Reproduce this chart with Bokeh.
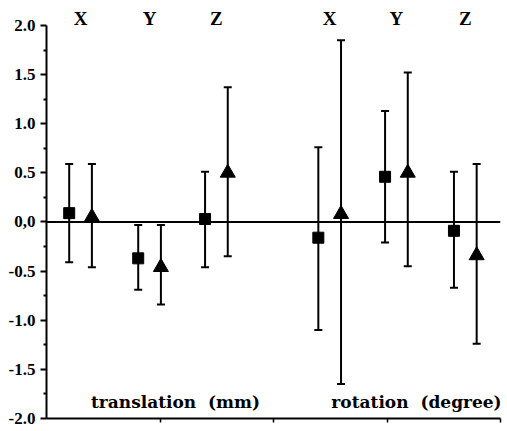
from bokeh.plotting import figure
from bokeh.models import (ColumnDataSource, Whisker, TeeHead, Span, Label,
                          LabelSet, FixedTicker, Range1d)
from bokeh.embed import file_html
from bokeh.resources import INLINE

# ---- data ----
groups = ["X", "Y", "Z", "X", "Y", "Z"]
group_pos = [0.30, 0.908, 1.497, 2.495, 3.083, 3.69]

sq_mean = [0.09, -0.37, 0.03, -0.16, 0.46, -0.09]
sq_upper = [0.59, -0.03, 0.51, 0.76, 1.13, 0.51]
sq_lower = [-0.41, -0.69, -0.46, -1.10, -0.21, -0.67]

tri_mean = [0.05, -0.46, 0.50, 0.08, 0.50, -0.34]
tri_upper = [0.59, -0.03, 1.37, 1.85, 1.52, 0.59]
tri_lower = [-0.46, -0.84, -0.35, -1.65, -0.45, -1.24]

y_ticks = [-2.0, -1.5, -1.0, -0.5, 0.0, 0.5, 1.0, 1.5, 2.0]
y_tick_labels = ["-2.0", "-1.5", "-1.0", "-0.5", "0,0", "0.5", "1.0", "1.5", "2.0"]
y_minor = [-1.75, -1.25, -0.75, -0.25, 0.25, 0.75, 1.25, 1.75]
x_ticks = [1, 2, 3, 4]

panel_titles = ["translation \u00a0(mm)", "rotation \u00a0(degree)"]

# ---- layout / styles ----
OFF = 0.1
SERIF = "Liberation Serif"

p = figure(width=507, height=431, x_range=Range1d(0, 4), y_range=Range1d(-2.0, 2.254),
           output_backend="svg", toolbar_location=None,
           min_border_left=46, min_border_right=7, min_border_top=0, min_border_bottom=13)
p.grid.visible = False
p.outline_line_color = None
p.background_fill_color = "white"

sq_src = ColumnDataSource(dict(x=[g - OFF for g in group_pos], y=sq_mean,
                               upper=sq_upper, lower=sq_lower))
tri_src = ColumnDataSource(dict(x=[g + OFF for g in group_pos], y=tri_mean,
                                upper=tri_upper, lower=tri_lower))

# zero line
p.add_layout(Span(location=0, dimension="width", line_color="black", line_width=2))

for src in (sq_src, tri_src):
    w = Whisker(base="x", upper="upper", lower="lower", source=src,
                line_color="black", line_width=2,
                upper_head=TeeHead(size=8, line_color="black", line_width=2),
                lower_head=TeeHead(size=8, line_color="black", line_width=2))
    p.add_layout(w)

p.scatter("x", "y", source=sq_src, marker="square", size=11,
          fill_color="black", line_color="black")
p.scatter("x", "y", source=tri_src, marker="triangle", size=15,
          fill_color="black", line_color="black")

# header labels X Y Z
hdr_src = ColumnDataSource(dict(x=group_pos, y=[2.0] * len(group_pos), text=groups))
p.add_layout(LabelSet(x="x", y="y", text="text", source=hdr_src,
                      text_align="center", text_baseline="alphabetic",
                      text_font=SERIF, text_font_style="bold",
                      text_font_size="19px", text_color="black"))

for tx, title in zip([1.137, 3.26], panel_titles):
    p.add_layout(Label(x=tx, y=-1.83, text=title, text_align="center",
                       text_baseline="alphabetic", text_font="DejaVu Serif",
                       text_font_style="bold", text_font_size="17px",
                       text_color="black"))

# axes
ya = p.yaxis[0]
ya.ticker = FixedTicker(ticks=y_ticks, minor_ticks=y_minor)
ya.major_label_overrides = {t: l for t, l in zip(y_ticks, y_tick_labels)}
ya.bounds = (-2.0, 2.0)
ya.axis_line_width = 2
ya.major_tick_line_width = 2
ya.minor_tick_line_width = 2
ya.major_tick_out = 6
ya.major_tick_in = 0
ya.minor_tick_out = 3
ya.minor_tick_in = 0
ya.major_label_standoff = 5
ya.major_label_text_font = SERIF
ya.major_label_text_font_style = "bold"
ya.major_label_text_font_size = "17px"
ya.major_label_text_color = "black"

xa = p.xaxis[0]
xa.ticker = FixedTicker(ticks=x_ticks)
xa.bounds = (0, 4)
xa.axis_line_width = 2
xa.major_tick_line_width = 1.5
xa.major_tick_out = 4
xa.major_tick_in = 0
xa.minor_tick_out = 0
xa.minor_tick_in = 0
xa.major_label_overrides = {t: "" for t in x_ticks}
xa.major_label_text_font_size = "1px"
xa.major_label_standoff = 0

open("out.html", "w").write(file_html(p, INLINE))
